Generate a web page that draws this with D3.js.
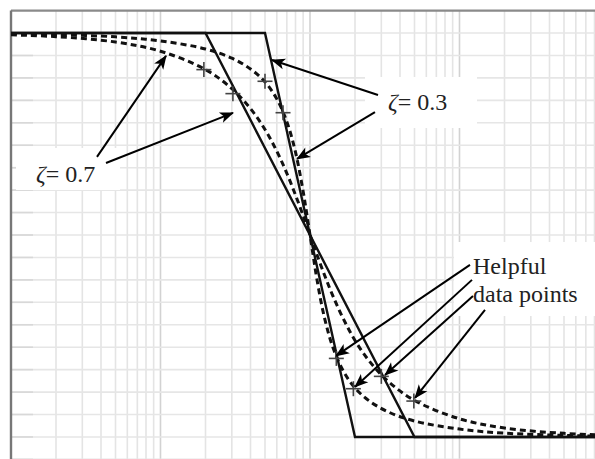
<!DOCTYPE html>
<html>
<head>
<meta charset="utf-8">
<script src="https://cdn.jsdelivr.net/npm/d3@7"></script>
<style>
  html, body { margin: 0; padding: 0; background: #fff; }
  svg { display: block; }
</style>
</head>
<body>
<svg id="chart" width="595" height="459"></svg>
<script>
// Frequency ratio ω/ωn of the sampled exact phase curves
const freqRatio = [0.01, 0.02, 0.05, 0.1, 0.2, 0.3, 0.4, 0.5, 0.6, 0.7, 0.8, 0.9, 0.95,
                   1, 1.053, 1.11, 1.25, 1.43, 1.67, 2, 2.5, 3.33, 5, 10, 20, 50, 100];
// Exact phase (degrees) for ζ = 0.3 and ζ = 0.7
const phase03 = [-0.3, -0.7, -1.7, -3.5, -7.1, -11.2, -16, -21.8, -29.4, -39.5, -53.1, -70.6, -80.3,
                 -90, -99.7, -109.4, -126.9, -140.5, -150.6, -158.2, -164, -168.8, -172.9, -176.5, -178.3, -179.3, -179.7];
const phase07 = [-0.8, -1.6, -4, -8.1, -16.3, -24.8, -33.7, -43, -52.7, -62.5, -72.2, -81.4, -85.8,
                 -90, -94.2, -98.6, -107.8, -117.5, -127.3, -137, -146.3, -155.2, -163.7, -171.9, -176, -178.4, -179.2];

// Straight-line approximations (breaks at ωn·10^(±ζ))
const asymFreq03 = [0.01, 0.5, 2, 100];
const asymFreq07 = [0.01, 0.2, 5, 100];
const asymPhase = [0, 0, -180, -180];

// Helpful data points on each curve
const markFreq03 = [0.5, 0.66, 1.5, 1.95];
const markPhase03 = [-21.5, -35.5, -145, -158.5];
const markFreq07 = [0.195, 0.305, 3, 4.95];
const markPhase07 = [-16.3, -27, -153, -164];

// Axis ticks
const xDecades = [0.01, 0.1, 1, 10, 100];
const yTicks = d3.range(10, -191, -10);

// Annotation arrows: tail and tip as [ω/ωn, phase]
const arrowTail = [[0.0376, -55.2], [0.0432, -57.9], [2.85, -27.6], [2.72, -35.2],
                   [11.75, -103.3], [12.12, -110.0], [12.31, -117.2], [14.81, -123.4]];
const arrowTip  = [[0.1089, -10.2], [0.3055, -35.6], [0.557, -12.0], [0.818, -56.1],
                   [1.492, -143.9], [2.0, -157.7], [3.175, -152.4], [5.04, -162.6]];

const svg = d3.select("#chart");
const x = d3.scaleLog().domain([0.01, 100]).range([11, 609]);
const y = d3.scaleLinear().domain([10, -190]).range([10.6, 459.4]);

// arrowhead
svg.append("defs").append("marker")
  .attr("id", "head").attr("viewBox", "-14 -7 16 14")
  .attr("refX", 0).attr("refY", 0)
  .attr("markerWidth", 16).attr("markerHeight", 14)
  .attr("markerUnits", "userSpaceOnUse").attr("orient", "auto")
  .append("path").attr("d", "M1,0 L-13,-5.5 L-9.5,0 L-13,5.5 Z").attr("fill", "#000");

// grid
const minorFreq = [];
xDecades.slice(0, -1).forEach(d => { for (let k = 2; k <= 9; k++) minorFreq.push(d * k); });
const grid = svg.append("g");
grid.selectAll(".vminor").data(minorFreq).join("line")
  .attr("x1", d => x(d)).attr("x2", d => x(d)).attr("y1", y(10)).attr("y2", 459)
  .attr("stroke", "#e4e4e4").attr("stroke-width", 1.6);
grid.selectAll(".vmajor").data(xDecades.slice(1)).join("line")
  .attr("x1", d => x(d)).attr("x2", d => x(d)).attr("y1", y(10)).attr("y2", 459)
  .attr("stroke", "#d2d2d2").attr("stroke-width", 1.6);
grid.selectAll(".h").data(yTicks.slice(1)).join("line")
  .attr("x1", x(0.01)).attr("x2", 595).attr("y1", d => y(d)).attr("y2", d => y(d))
  .attr("stroke", "#e6e6e6").attr("stroke-width", 1.6);
grid.selectAll(".tick").data(yTicks.slice(1)).join("line")
  .attr("x1", x(0.01)).attr("x2", x(0.01) + 22).attr("y1", d => y(d)).attr("y2", d => y(d))
  .attr("stroke", "#d8d8d8").attr("stroke-width", 1.6);

// frame
svg.append("line").attr("x1", x(0.01)).attr("x2", 595).attr("y1", y(10)).attr("y2", y(10))
  .attr("stroke", "#8a8a8a").attr("stroke-width", 2.2);
svg.append("line").attr("x1", x(0.01)).attr("x2", x(0.01)).attr("y1", y(10)).attr("y2", 459)
  .attr("stroke", "#777").attr("stroke-width", 2.4);

// label backgrounds
const boxes = [[16, 148, 104, 42], [365, 77, 112, 51], [454, 242, 141, 74]];
svg.selectAll(".box").data(boxes).join("rect")
  .attr("x", d => d[0]).attr("y", d => d[1]).attr("width", d => d[2]).attr("height", d => d[3])
  .attr("fill", "#fff");

const line = d3.line().x(d => x(d[0])).y(d => y(d[1]));
const smooth = d3.line().x(d => x(d[0])).y(d => y(d[1])).curve(d3.curveCatmullRom.alpha(0.5));

// exact curves (dashed)
[phase03, phase07].forEach(ph => {
  svg.append("path").datum(freqRatio.map((f, i) => [f, ph[i]]))
    .attr("d", smooth).attr("fill", "none").attr("stroke", "#111")
    .attr("stroke-width", 3).attr("stroke-dasharray", "6,4");
});

// asymptotes
[asymFreq03, asymFreq07].forEach(fr => {
  svg.append("path").datum(fr.map((f, i) => [f, asymPhase[i]]))
    .attr("d", line).attr("fill", "none").attr("stroke", "#111").attr("stroke-width", 2.4);
});

// data-point crosses
const marks = markFreq03.map((f, i) => [f, markPhase03[i]])
  .concat(markFreq07.map((f, i) => [f, markPhase07[i]]));
const cross = svg.append("g").attr("stroke", "#444").attr("stroke-width", 1.6);
cross.selectAll(".ch").data(marks).join("line")
  .attr("x1", d => x(d[0]) - 7.5).attr("x2", d => x(d[0]) + 7.5)
  .attr("y1", d => y(d[1])).attr("y2", d => y(d[1]));
cross.selectAll(".cv").data(marks).join("line")
  .attr("x1", d => x(d[0])).attr("x2", d => x(d[0]))
  .attr("y1", d => y(d[1]) - 7.5).attr("y2", d => y(d[1]) + 7.5);

// annotation arrows
svg.selectAll(".arrow").data(arrowTail.map((t, i) => [t, arrowTip[i]])).join("line")
  .attr("x1", d => x(d[0][0])).attr("y1", d => y(d[0][1]))
  .attr("x2", d => x(d[1][0])).attr("y2", d => y(d[1][1]))
  .attr("stroke", "#000").attr("stroke-width", 2).attr("marker-end", "url(#head)");

// labels
const font = "'Liberation Serif', 'Times New Roman', serif";
function zetaLabel(px, py, val) {
  const t = svg.append("text").attr("x", px).attr("y", py)
    .attr("font-family", font).attr("font-size", 24).attr("fill", "#222");
  t.append("tspan").attr("font-style", "italic").text("ζ");
  t.append("tspan").text("= " + val);
}
zetaLabel(36, 182, "0.7");
zetaLabel(388, 110, "0.3");
svg.append("text").attr("x", 473).attr("y", 274)
  .attr("font-family", font).attr("font-size", 24).attr("fill", "#222").text("Helpful");
svg.append("text").attr("x", 473).attr("y", 302)
  .attr("font-family", font).attr("font-size", 24).attr("fill", "#222").text("data points");
</script>
</body>
</html>
